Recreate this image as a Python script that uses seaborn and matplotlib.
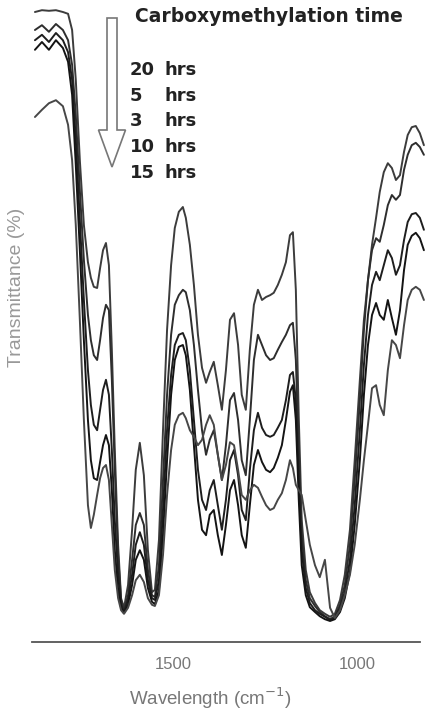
import pandas as pd
import numpy as np
import matplotlib
matplotlib.use("Agg")
import matplotlib.pyplot as plt
from matplotlib.patches import FancyArrow
import seaborn as sns

# wavenumber grid (cm-1) shared by all spectra
wavenumber = [1875, 1856, 1837, 1818, 1799, 1785, 1774, 1764, 1753, 1742, 1731, 1723,
              1715, 1706, 1698, 1690, 1682, 1674, 1666, 1658, 1649, 1641, 1633,
              1622, 1611, 1601, 1590, 1579, 1568, 1557, 1549, 1538, 1527, 1516, 1505,
              1495, 1484, 1473,
              1465, 1454, 1443, 1432, 1421, 1410, 1400, 1389, 1378, 1367, 1356, 1345,
              1334, 1323, 1313, 1302, 1291, 1280, 1269, 1258, 1247, 1236, 1226, 1215,
              1204, 1193, 1182,
              1174, 1166, 1158, 1150, 1139, 1128,
              1114, 1101, 1087, 1073, 1060, 1046, 1033, 1019, 1006,
              992, 981, 970, 959, 948, 938, 927, 916, 905, 894, 883, 872, 862, 851,
              840, 829, 818]

# transmittance, one list per carboxymethylation time
t_20h = [105, 105.3, 105.2, 105.3, 105, 104.7, 102, 93.7, 80.3, 69.5, 63.3, 60.7,
         59.2, 59, 62.3, 65.3, 66.5, 62.8, 48.7, 32, 16.2, 7.3, 5.7,
         9.5, 18.7, 28.7, 33.2, 27.8, 15.3, 8.3, 8.7, 17, 35.3, 52, 62.8, 69, 71.7, 72.5,
         70.7, 66.2, 59.5, 51.2, 45.7, 43.2, 45, 46.7, 42.8, 38.7, 45.3, 53.7, 54.8,
         49.5, 41.2, 38.7, 48.7, 56.2, 58.7, 57, 57.5, 57.8, 58.2, 59.5, 61.2, 63.3, 67.8,
         68.3, 58.7, 37.3, 20.3, 12, 8.3,
         6.5, 5.3, 4.7, 4.2, 4.7, 7, 11.2, 18.7, 30.3,
         43.7, 53.7, 60.3, 66.2, 70.7, 75, 78.3, 79.8, 79, 77, 77.8, 81.7, 84.5, 85.8,
         86, 84.8, 82.8]
t_5h = [102, 102.8, 101.7, 103, 102, 100.3, 96.2, 87.8, 75.3, 63.7, 54.5, 50.3,
        47.8, 47, 50.3, 54, 56.2, 55.3, 43.7, 28.7, 14.5, 7, 5.3,
        7.8, 13.7, 19.5, 21.5, 19.5, 12, 7.8, 7.5, 12.8, 27, 41.2, 51.2, 56.2, 57.8, 58.7,
        58.3, 55.3, 49.5, 42, 35.3, 31.2, 33.7, 35.3, 31.2, 27, 32.8, 40.3, 41.5,
        37, 30.3, 27.8, 37, 47, 51.2, 49.5, 47.8, 47, 47.3, 48.7, 50, 51.2, 52.8,
        53.2, 47, 32, 17.8, 10.3, 7.3,
        6, 5, 4.3, 3.8, 4.3, 6.2, 9.5, 16.2, 27,
        40.3, 52, 60.3, 65.3, 67.3, 66.7, 69.5, 72.8, 74.5, 73.7, 74.5, 78.7, 81.2, 82.8,
        83.2, 82.5, 81.2]
t_3h = [100.3, 101.2, 100, 101.5, 100.3, 98.3, 93.7, 83.7, 70.3, 57, 45.3, 39.5,
        36.2, 35.3, 38.7, 42, 43.7, 41.2, 32, 20.3, 11.2, 6.2, 5,
        7, 11.2, 16.2, 18.3, 16.2, 10.3, 7.3, 7, 10.3, 22, 35.3, 44.5, 49.5, 51.2, 51.5,
        50.3, 45.3, 37, 28.7, 23.7, 22, 25.3, 27, 22.8, 18.7, 23.7, 30.3, 32,
        27.8, 22, 20.3, 28.7, 35.3, 38.2, 35.7, 34.5, 34.2, 34.5, 35.7, 37, 40.3, 44.5,
        45, 40.3, 27, 15.3, 9, 6.5,
        5.3, 4.7, 4.2, 3.7, 4, 5.7, 8.3, 13.7, 22.8,
        35.3, 46.2, 54.5, 59.5, 61.7, 60.3, 62.8, 65.3, 64, 61.2, 62.8, 67, 70, 71.3,
        71.5, 70.7, 68.7]
t_10h = [98.7, 100, 98.7, 100.3, 99, 96.7, 91.2, 79.5, 65.3, 50.3, 37, 30.3,
         27.3, 27, 30, 32.8, 34.5, 32.8, 25.3, 15.3, 8.7, 5.7, 4.8,
         6.2, 9.5, 13.7, 15.3, 13.7, 9, 6.7, 6.3, 8.7, 17.8, 30.3, 41.2, 47, 49.2, 49.5,
         47.8, 42, 32.8, 23.7, 18.7, 17.8, 21.2, 22, 17.8, 14.5, 19.5, 25.3, 27,
         22.8, 17.8, 15.7, 22.8, 29.5, 32, 30, 28.7, 28.3, 29, 30.7, 32.8, 37, 41.7,
         42.8, 37, 23.7, 12.8, 7.8, 5.8,
         5, 4.3, 3.8, 3.5, 3.8, 5, 7.3, 11.7, 19.5,
         30.3, 41.2, 49.5, 54.5, 56.5, 54.5, 53.7, 57, 54, 51.2, 55.3, 62, 66.2, 67.7,
         68.2, 67.3, 65.3]
t_15h = [87.5, 88.7, 89.8, 90.3, 89.3, 86.2, 80.3, 69.5, 53.7, 37, 22.8, 19,
         21.2, 24.5, 27.3, 29, 29.5, 27, 19.5, 12, 7.3, 5.3, 4.7,
         5.7, 7.8, 10.3, 11.2, 10, 7.3, 6.2, 6, 7.8, 14.5, 24.5, 32, 36.2, 37.8, 38.2,
         37.3, 35.3, 34.2, 32.8, 33.7, 36.2, 37.8, 36.2, 31.2, 27, 29.5, 33.3, 32.8,
         28.7, 24.5, 23.7, 25.3, 26.2, 25.7, 24.2, 22.8, 22, 22.3, 23.7, 24.8, 27, 30.3,
         29, 26.2, 25.3, 24.5, 20.3, 16.2,
         12.8, 10.8, 13.7, 5.7, 4, 5.3, 7.8, 11.2, 16.2,
         23.7, 30.3, 36.2, 42.3, 42.8, 39.5, 37.8, 45.3, 50.3, 49.5, 47.3, 52.8, 57, 58.7,
         59.2, 58.7, 57]

time_labels = ['20', '5', '3', '10', '15']
spectra = [t_20h, t_5h, t_3h, t_10h, t_15h]
xticks = [1500, 1000]

# long table for seaborn
df = pd.concat([pd.DataFrame({'wavenumber': wavenumber, 'transmittance': s, 'time': lab})
                for lab, s in zip(time_labels, spectra)], ignore_index=True)

sns.set_style("white")
plt.rcParams['font.family'] = ['Liberation Sans', 'DejaVu Sans']

fig = plt.figure(figsize=(4.25, 7.1), dpi=100)
ax = fig.add_axes([32 / 425, 68 / 710, 393 / 425, 642 / 710])

palette = ['#3c3c3c', '#2e2e2e', '#1e1e1e', '#141414', '#474747']
sns.lineplot(data=df, x='wavenumber', y='transmittance', hue='time',
             hue_order=time_labels, palette=palette, estimator=None,
             legend=False, linewidth=1.4, ax=ax)

ax.set_xlim(1883, 815)
ax.set_ylim(0, 107)
for s in ['top', 'left', 'right']:
    ax.spines[s].set_visible(False)
ax.spines['bottom'].set_color('#555555')
ax.spines['bottom'].set_linewidth(1.3)
ax.spines['bottom'].set_bounds(1883, 829)
ax.set_xticks(xticks)
ax.set_xticklabels([str(t) for t in xticks])
ax.set_yticks([])
ax.tick_params(axis='x', direction='out', length=5, width=1.5, color='#aaaaaa',
               labelcolor='#777777', labelsize=12, pad=6)
ax.set_xlabel('')
ax.set_ylabel('')

fig.text(210 / 425, 1 - 698 / 710, 'Wavelength (cm$^{-1}$)', ha='center', va='center',
         color='#777777', fontsize=13.5)
fig.text(17 / 425, 1 - 287 / 710, 'Transmittance (%)', ha='center', va='center',
         rotation=90, color='#999999', fontsize=14)

# legend written as text list with arrow
legend_font = ['DejaVu Sans']
fig.text(135 / 425, 1 - 16 / 710, 'Carboxymethylation time', ha='left', va='center',
         fontsize=13.5, fontweight='bold', color='#222222', family=legend_font)
for i, lab in enumerate(time_labels):
    yy = 1 - (70 + 25.7 * i) / 710
    fig.text(130 / 425, yy, lab, ha='left', va='center', fontsize=13,
             fontweight='bold', color='#222222', family=legend_font)
    fig.text(165 / 425, yy, 'hrs', ha='left', va='center', fontsize=13,
             fontweight='bold', color='#222222', family=legend_font)

arrow = FancyArrow(1.12, 6.92, 0, -1.49, width=0.10, head_width=0.27, head_length=0.37,
                   length_includes_head=True, transform=fig.dpi_scale_trans,
                   facecolor='white', edgecolor='#777777', linewidth=1.2)
fig.add_artist(arrow)

fig.savefig('out.png', dpi=100)
